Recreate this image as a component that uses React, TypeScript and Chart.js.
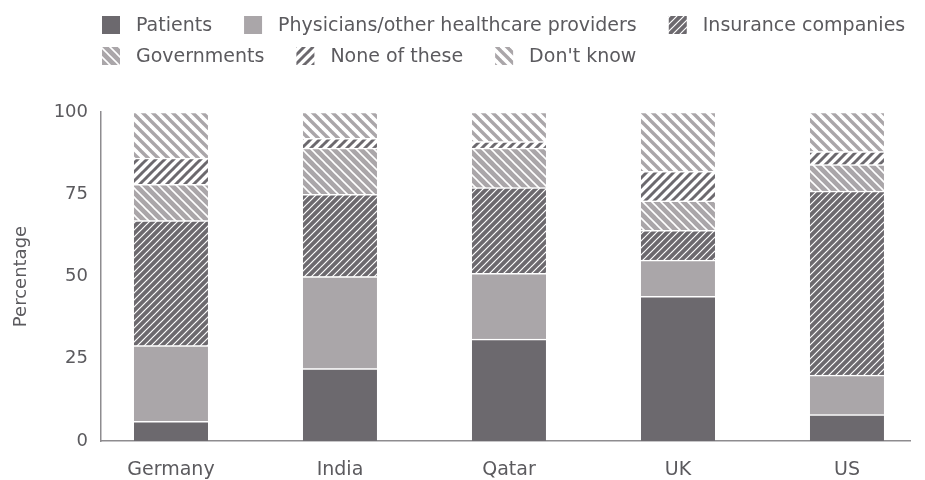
import React, { useEffect, useRef } from 'react';
import { Chart, registerables } from 'chart.js';

Chart.register(...registerables);

const categories = ['Germany', 'India', 'Qatar', 'UK', 'US'];
const seriesNames = [
  'Patients',
  'Physicians/other healthcare providers',
  'Insurance companies',
  'Governments',
  'None of these',
  "Don't know",
];
const patients = [6, 22, 31, 44, 8];
const physicians = [23, 28, 20, 11, 12];
const insurance = [38, 25, 26, 9, 56];
const governments = [11, 14, 12, 9, 8];
const noneOfThese = [8, 3, 2, 9, 4];
const dontKnow = [14, 8, 9, 18, 12];
const yTicks = [0, 25, 50, 75, 100];
const legendRows = [[0, 1, 2], [3, 4, 5]];

const DARK = '#6c696e';
const LIGHT = '#aaa6a9';
const TEXT = '#5b5a5e';
const AXIS = '#8e8c8f';
const FONT = '"DejaVu Sans", sans-serif';

function makePattern(
  ctx: CanvasRenderingContext2D,
  bg: string,
  fg: string,
  dir: '/' | '\\',
  size: number,
  lw: number
): CanvasPattern | string {
  const c = document.createElement('canvas');
  c.width = size;
  c.height = size;
  const x = c.getContext('2d')!;
  x.fillStyle = bg;
  x.fillRect(0, 0, size, size);
  x.strokeStyle = fg;
  x.lineWidth = lw;
  for (const o of [-size, 0, size]) {
    x.beginPath();
    if (dir === '/') {
      x.moveTo(o - 1, size + 1);
      x.lineTo(o + size + 1, -1);
    } else {
      x.moveTo(o - 1, -1);
      x.lineTo(o + size + 1, size + 1);
    }
    x.stroke();
  }
  return ctx.createPattern(c, 'repeat') || bg;
}

const legendPlugin = {
  id: 'customLegend',
  afterDraw(chart: any) {
    const ctx: CanvasRenderingContext2D = chart.ctx;
    const startX = chart.chartArea.left + 1;
    const rowYs = [25, 56];
    ctx.save();
    ctx.font = `19px ${FONT}`;
    ctx.textBaseline = 'middle';
    ctx.textAlign = 'left';
    legendRows.forEach((row, r) => {
      let x = startX;
      const cy = rowYs[r];
      row.forEach((di) => {
        const ds = chart.data.datasets[di];
        ctx.fillStyle = ds.backgroundColor;
        ctx.fillRect(x, cy - 9, 18, 18);
        ctx.fillStyle = TEXT;
        ctx.fillText(ds.label, x + 34, cy + 1);
        x += 34 + ctx.measureText(ds.label).width + 32;
      });
    });
    ctx.restore();
  },
};

export default function App() {
  const ref = useRef<HTMLCanvasElement>(null);

  useEffect(() => {
    const canvas = ref.current!;
    const ctx = canvas.getContext('2d')!;
    const fills = [
      DARK,
      LIGHT,
      makePattern(ctx, DARK, '#ffffff', '/', 7, 1.2),
      makePattern(ctx, LIGHT, '#ffffff', '\\', 9, 1.6),
      makePattern(ctx, '#ffffff', DARK, '/', 9, 3.0),
      makePattern(ctx, '#ffffff', LIGHT, '\\', 10, 3.4),
    ];
    const series = [patients, physicians, insurance, governments, noneOfThese, dontKnow];

    Chart.defaults.font.family = FONT;
    Chart.defaults.color = TEXT;

    const chart = new Chart(ctx, {
      type: 'bar',
      data: {
        datasets: series.map((vals, si) => ({
          label: seriesNames[si],
          data: vals.map((v, i) => ({ x: i, y: v })),
          backgroundColor: fills[si] as any,
          borderColor: '#ffffff',
          borderWidth: { top: 1.5, right: 0, bottom: 0, left: 0 },
          borderSkipped: false,
          barThickness: 74,
        })),
      },
      options: {
        animation: false,
        responsive: true,
        maintainAspectRatio: false,
        layout: { padding: { top: 112, right: 15, bottom: 0, left: 0 } },
        plugins: {
          legend: { display: false },
          tooltip: { enabled: false },
        },
        scales: {
          x: {
            type: 'linear',
            stacked: true,
            offset: false,
            min: -0.414,
            max: 4.373,
            grid: { display: false, drawTicks: false, offset: false },
            border: { display: true, color: AXIS, width: 1.5 },
            afterBuildTicks: (s: any) => {
              s.ticks = categories.map((_, i) => ({ value: i }));
            },
            afterFit: (s: any) => {
              s.height = 39;
            },
            ticks: {
              padding: 18,
              font: { size: 19 },
              color: TEXT,
              callback: (v: any) => categories[Math.round(Number(v))] ?? '',
            },
          },
          y: {
            stacked: true,
            min: 0,
            max: 100,
            grid: { display: false, drawTicks: false },
            border: { display: true, color: AXIS, width: 1.5 },
            afterBuildTicks: (s: any) => {
              s.ticks = yTicks.map((v) => ({ value: v }));
            },
            afterFit: (s: any) => {
              s.width = 101;
            },
            ticks: {
              padding: 13,
              font: { size: 18 },
              color: TEXT,
            },
            title: {
              display: true,
              text: 'Percentage',
              font: { size: 18 },
              color: TEXT,
              padding: { top: 11, bottom: 0 },
            },
          },
        },
      },
      plugins: [legendPlugin],
    });
    return () => chart.destroy();
  }, []);

  return (
    <div style={{ position: 'absolute', left: 0, top: 0, width: 925, height: 480, background: '#ffffff' }}>
      <canvas ref={ref} />
    </div>
  );
}
